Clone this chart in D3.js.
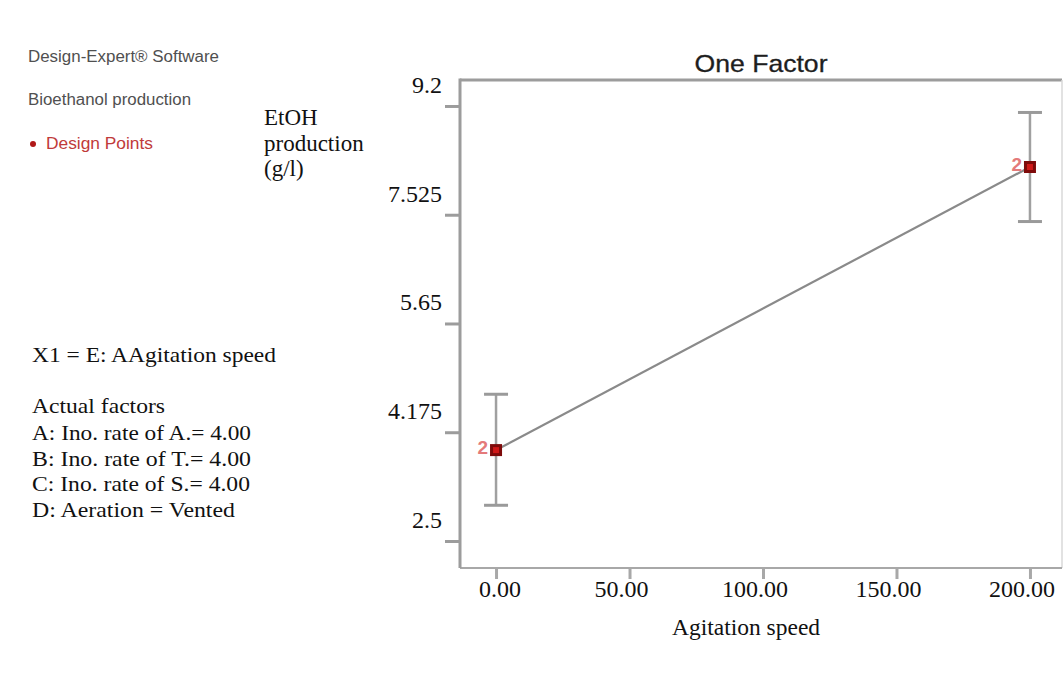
<!DOCTYPE html>
<html>
<head>
<meta charset="utf-8">
<script src="https://cdn.jsdelivr.net/npm/d3@7"></script>
<style>
  html, body { margin: 0; padding: 0; background: #fff; }
  svg { display: block; }
</style>
</head>
<body>
<svg id="chart" width="1063" height="673"></svg>
<script>
// Agitation speed levels and EtOH production (g/l) at each design point
const speeds = [0, 200];
const etoh = [3.90, 8.26];
const ciLow = [3.05, 7.42];
const ciHigh = [4.76, 9.10];
const replicates = ["2", "2"];

// Axis ticks (evenly spaced positions) and their printed labels
const yTicks = [2.5, 4.175, 5.85, 7.525, 9.2];
const yTickLabels = ["2.5", "4.175", "5.65", "7.525", "9.2"];
const xTicks = [0, 50, 100, 150, 200];

// Side panel text
const headerLines = ["Design-Expert® Software", "Bioethanol production"];
const factorLines = [
  "A: Ino. rate of A.= 4.00",
  "B: Ino. rate of T.= 4.00",
  "C: Ino. rate of S.= 4.00",
  "D: Aeration = Vented"
];

const svg = d3.select("#chart");
const serif = "'Liberation Serif', 'Times New Roman', serif";
const sans = "'Liberation Sans', Arial, sans-serif";

const plot = { left: 460, top: 80, right: 1062, bottom: 568 };

const x = d3.scaleLinear().domain([-13.5, 212]).range([plot.left, plot.right]);
const y = d3.scaleLinear().domain([2.084, 9.6]).range([plot.bottom, plot.top]);

// ---- Left panel ----
svg.selectAll("text.hdr").data(headerLines).join("text")
  .attr("class", "hdr")
  .attr("x", 28)
  .attr("y", (d, i) => 62 + i * 43)
  .attr("font-family", sans)
  .attr("font-size", 16)
  .attr("fill", "#505050")
  .attr("textLength", (d, i) => [191, 163][i])
  .attr("lengthAdjust", "spacingAndGlyphs")
  .text(d => d);

svg.append("circle").attr("cx", 33).attr("cy", 144).attr("r", 3).attr("fill", "#b01818");
svg.append("text")
  .attr("x", 46).attr("y", 149)
  .attr("font-family", sans).attr("font-size", 16)
  .attr("fill", "#c03a3a")
  .attr("textLength", 107).attr("lengthAdjust", "spacingAndGlyphs")
  .text("Design Points");

// Response label
svg.selectAll("text.resp").data(["EtOH", "production", "(g/l)"]).join("text")
  .attr("class", "resp")
  .attr("x", 264)
  .attr("y", (d, i) => 125 + i * 25.5)
  .attr("font-family", serif)
  .attr("font-size", 23)
  .attr("fill", "#111")
  .text(d => d);

svg.append("text")
  .attr("x", 32).attr("y", 362)
  .attr("font-family", serif).attr("font-size", 22).attr("fill", "#111")
  .attr("textLength", 244).attr("lengthAdjust", "spacingAndGlyphs")
  .text("X1 = E: AAgitation speed");

svg.append("text")
  .attr("x", 32).attr("y", 413)
  .attr("font-family", serif).attr("font-size", 22).attr("fill", "#111")
  .attr("textLength", 133).attr("lengthAdjust", "spacingAndGlyphs")
  .text("Actual factors");

svg.selectAll("text.fac").data(factorLines).join("text")
  .attr("class", "fac")
  .attr("x", 32)
  .attr("y", (d, i) => 440 + i * 25.7)
  .attr("font-family", serif)
  .attr("font-size", 22)
  .attr("fill", "#111")
  .attr("textLength", (d, i) => [219, 219, 218, 203][i])
  .attr("lengthAdjust", "spacingAndGlyphs")
  .text(d => d);

// ---- Title ----
svg.append("text")
  .attr("x", (plot.left + plot.right) / 2).attr("y", 72)
  .attr("text-anchor", "middle")
  .attr("font-family", sans).attr("font-size", 24)
  .attr("fill", "#1e1e1e")
  .attr("stroke", "#1e1e1e").attr("stroke-width", 0.3)
  .attr("textLength", 133).attr("lengthAdjust", "spacingAndGlyphs")
  .text("One Factor");

// ---- Frame ----
const frame = svg.append("g");
frame.append("line").attr("x1", plot.left).attr("x2", plot.right)
  .attr("y1", plot.top).attr("y2", plot.top)
  .attr("stroke", "#9c9c9c").attr("stroke-width", 3);
frame.append("line").attr("x1", plot.right).attr("x2", plot.right)
  .attr("y1", plot.top).attr("y2", plot.bottom)
  .attr("stroke", "#d8d8d8").attr("stroke-width", 1.5);
frame.append("line").attr("x1", plot.left).attr("x2", plot.right)
  .attr("y1", plot.bottom).attr("y2", plot.bottom)
  .attr("stroke", "#a8a8a8").attr("stroke-width", 2);

// ---- Y axis ----
const yAxis = d3.axisLeft(y).tickValues(yTicks).tickSize(15).tickFormat("");
const gy = svg.append("g").attr("transform", `translate(${plot.left},0)`).call(yAxis);
gy.select(".domain").attr("stroke", "#9c9c9c").attr("stroke-width", 3)
  .attr("d", `M0,${plot.top - 1.5}V${plot.bottom}`);
gy.selectAll(".tick line").attr("stroke", "#9c9c9c").attr("stroke-width", 3);

svg.selectAll("text.ytl").data(yTicks).join("text")
  .attr("class", "ytl")
  .attr("x", 442)
  .attr("y", d => y(d) - 13)
  .attr("text-anchor", "end")
  .attr("font-family", serif)
  .attr("font-size", 24)
  .attr("fill", "#111")
  .text((d, i) => yTickLabels[i]);

// ---- X axis ----
const xAxis = d3.axisBottom(x).tickValues(xTicks).tickSize(11).tickFormat("");
const gx = svg.append("g").attr("transform", `translate(0,${plot.bottom})`).call(xAxis);
gx.select(".domain").remove();
gx.selectAll(".tick line").attr("stroke", "#a8a8a8").attr("stroke-width", 3);

svg.selectAll("text.xtl").data(xTicks).join("text")
  .attr("class", "xtl")
  .attr("x", d => x(d) - (d === 0 ? -4 : 8))
  .attr("y", 597)
  .attr("text-anchor", "middle")
  .attr("font-family", serif)
  .attr("font-size", 24)
  .attr("fill", "#111")
  .text(d => d3.format(".2f")(d));

svg.append("text")
  .attr("x", 746).attr("y", 635)
  .attr("text-anchor", "middle")
  .attr("font-family", serif).attr("font-size", 23.5).attr("fill", "#111")
  .text("Agitation speed");

// ---- Confidence bars ----
const pts = speeds.map((s, i) => ({ s, v: etoh[i], lo: ciLow[i], hi: ciHigh[i], n: replicates[i] }));
const bars = svg.append("g");
pts.forEach(p => {
  bars.append("line").attr("x1", x(p.s)).attr("x2", x(p.s))
    .attr("y1", y(p.hi)).attr("y2", y(p.lo))
    .attr("stroke", "#a0a0a0").attr("stroke-width", 2.5);
  [p.hi, p.lo].forEach(v => {
    bars.append("line").attr("x1", x(p.s) - 12).attr("x2", x(p.s) + 12)
      .attr("y1", y(v)).attr("y2", y(v))
      .attr("stroke", "#9a9a9a").attr("stroke-width", 3);
  });
});

// ---- Prediction line ----
svg.append("path")
  .datum(pts)
  .attr("fill", "none")
  .attr("stroke", "#8a8a8a")
  .attr("stroke-width", 2.2)
  .attr("d", d3.line().x(d => x(d.s)).y(d => y(d.v)));

// ---- Design points ----
const marks = svg.append("g");
pts.forEach(p => {
  marks.append("rect")
    .attr("x", x(p.s) - 6).attr("y", y(p.v) - 6)
    .attr("width", 12).attr("height", 12)
    .attr("fill", "#7e0a0a");
  marks.append("rect")
    .attr("x", x(p.s) - 3).attr("y", y(p.v) - 3)
    .attr("width", 6).attr("height", 6)
    .attr("fill", "#d01818");
  marks.append("text")
    .attr("x", x(p.s) - 8).attr("y", y(p.v) + 4)
    .attr("text-anchor", "end")
    .attr("font-family", sans).attr("font-size", 19)
    .attr("font-weight", "bold")
    .attr("fill", "#e47a7a")
    .text(p.n);
});
</script>
</body>
</html>
